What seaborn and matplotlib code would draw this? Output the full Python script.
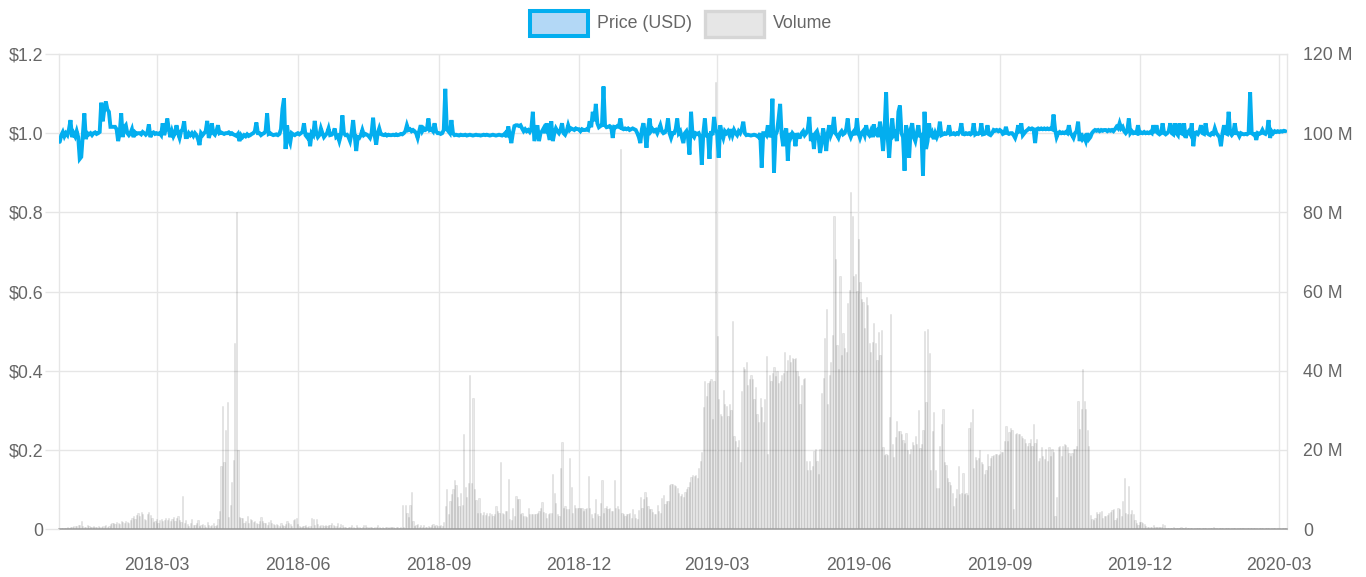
import numpy as np
import pandas as pd
import matplotlib
matplotlib.use("Agg")
import matplotlib.pyplot as plt
import matplotlib.dates as mdates
from matplotlib.patches import Rectangle
from matplotlib.ticker import FixedLocator, FixedFormatter
import seaborn as sns

# ---------------- data ----------------
START = "2017-12-28"

# Daily trading volume, millions USD, one list per month
vol_2017_12 = [0.2, 0.2, 0.3, 0.3]
vol_2018_01 = [0.3,0.4,0.3,0.5,0.6,0.7,0.8,0.7,0.9,1.0,2.0,0.8,0.6,0.5,0.9,0.7,0.5,0.6,0.8,0.4,0.5,0.7,0.6,0.5,0.8,0.7,0.9,0.6,0.8,1.2,1.5]
vol_2018_02 = [1.5,1.2,1.8,1.6,1.3,1.9,1.7,1.4,2.0,1.8,1.6,2.2,2.8,3.3,2.5,3.6,4.0,3.2,4.4,3.8,2.6,2.2,3.9,4.3,3.5,2.7,1.8,2.0]
vol_2018_03 = [2.5,1.6,2.2,2.6,2.0,2.4,2.7,2.3,2.8,1.9,2.6,3.0,2.1,2.9,3.2,2.4,1.8,8.3,1.6,2.3,1.2,0.8,1.5,2.6,1.0,0.9,1.4,2.2,0.8,1.1,1.3]
vol_2018_04 = [1.0,0.6,1.8,0.9,0.7,1.1,1.6,0.8,1.0,2.5,4.6,16,31,17,25,32,3,6,12,17.5,47,80,20,3,2.8,2.9,1.5,2.1,3.2,1.6]
vol_2018_05 = [2.6,2.4,1.8,2.0,1.5,1.2,2.1,3.1,1.9,1.6,1.4,1.1,1.7,2.2,1.5,1.3,0.9,1.2,1.0,0.8,1.5,1.1,0.7,1.3,2.1,1.6,1.2,0.8,2.4,2.6,2.8]
vol_2018_06 = [1.2,0.8,0.6,0.7,0.8,0.9,0.6,0.7,0.8,2.8,2.6,0.9,2.5,1.2,0.8,0.9,1.0,0.7,1.1,0.8,0.9,1.0,1.5,0.9,0.7,0.8,1.4,0.6,1.2,0.9]
vol_2018_07 = [0.5,0.4,0.3,0.5,0.4,1.0,0.6,0.3,1.1,0.4,0.5,0.3,0.4,0.9,1.0,0.4,0.3,0.5,0.4,0.3,0.6,0.4,1.0,0.5,0.3,0.4,0.3,0.5,0.4,0.3,0.6]
vol_2018_08 = [0.4,0.5,0.3,0.4,0.5,0.3,0.5,6.0,0.4,6.0,4.0,3.0,6.0,9.4,2.0,0.8,1.0,1.2,0.6,1.0,0.5,1.0,0.4,0.5,0.8,0.6,1.0,1.3,0.7,0.9,0.8]
vol_2018_09 = [0.8,1.0,0.7,1.7,5.9,10,3.8,7,8.8,10,12.5,11,8,5.9,9.2,6,24,10.5,8,11.7,39,11.5,33,10,7.3,4,7.8,4,3.5,4.2]
vol_2018_10 = [3.6,4.1,3.3,4.1,3.7,3.3,3.7,5.8,4.5,4.1,17,4.1,3.7,4.5,4.5,12.7,2.6,2.4,5.2,3.3,8.4,7.6,7.7,3.7,4.1,3.3,3.3,3.1,5.2,3.7,3.7]
vol_2018_11 = [3.7,3.7,3.7,4.1,4.5,5.4,6.7,4.3,4.1,2.8,3.7,4.1,4.1,14,9.1,6.5,3.7,3.4,15.3,22,5.4,5.8,5.0,5.0,18,10.6,4.1,6.0,5.4,5.4]
vol_2018_12 = [5.4,5.4,5.2,4.5,5.0,5.2,13.4,5.4,3.7,2.8,4.1,7.6,3.7,3.4,6.5,12.5,4.1,5.4,5.7,5.0,5.4,4.5,4.5,12.4,5.4,5.8,5.0,96,4.1,3.7,3.3]
vol_2019_01 = [3.7,3.9,4.1,2.8,5.0,3.9,2.8,2.6,4.8,8.2,5.4,7.7,9.4,8.0,5.8,5.0,5.0,4.3,3.7,3.7,6.0,4.5,4.1,7.9,8.6,6.3,7.1,7.1,11.2,11.4,11.4]
vol_2019_02 = [11.2,10.8,10.3,9.0,8.4,8.8,8.0,9.3,10.0,10.6,11.8,13.1,13.6,13.4,13.6,13.0,15.5,17.2,19.4,30.8,37.5,33.6,37.0,37.3,37.8,27.8,37.3,113]
vol_2019_03 = [48.8,32.8,29,28.6,35,31.5,31,28.6,31.7,30,52.5,23.6,22.3,20.7,22.5,17,34.8,41,40.3,42.3,36.5,37.8,39,38,32.8,36,29,27,33.2,30.7,27]
vol_2019_04 = [32.8,43.6,19,39,37.3,39.4,41,38.6,39.8,37,37.3,39,39.4,44.8,39.8,42.8,44,42.3,43.2,43,43.3,40,38.6,31.5,36.5,37.8,38.2,17.3,14.8,17.3]
vol_2019_05 = [14.8,16,19.8,20.3,17.3,14,20.3,34.4,38.2,48.2,55.7,31.5,39,42.3,49,79,68.2,46.5,40.3,64,44,49.4,45.7,44.8,57,60.5,85.2,79,64,64.4,60.2]
vol_2019_06 = [73.2,62.3,58.2,57.3,50.7,58.6,56.5,47,44.6,47.3,52,47,42.8,49.8,44,50.3,20.7,18.6,19,18.6,28.2,54.2,21.5,18.2,23.2,27.3,24.8,24.7,24,22.5]
vol_2019_07 = [21.7,24.2,20,19,20.3,22,21.2,23.5,21.4,30,20.5,21.5,25,50,32,50.5,44.5,15,24.7,29.6,15,10.3,10.3,21,26.5,30.3,17,16.2,12.8,12,11.2]
vol_2019_08 = [9,5.8,7.9,10,15.8,8.8,9,14.2,8.8,9,8.5,25.4,27,30.3,15.4,18.3,17.5,18,20,17,16.5,13.8,15,19,16,18,18.5,18.8,19,19,18.8]
vol_2019_09 = [19,19.5,19.5,22.3,26,22.3,24.4,25.6,25,5,24,24.2,24,24,23.5,23.1,22.7,21.8,21,21.8,22.7,21,26.5,21.8,22.7,17.2,18,20.6,18.5,17.6]
vol_2019_10 = [20.2,17.2,20.6,18.5,20.2,19.5,3.4,8,20.6,21,18.5,21,21.4,21.2,20.6,19.3,18.5,19.3,20.2,20.3,21,32.4,25.2,30.3,40.5,32.4,30.3,25,21,3.5,2.5]
vol_2019_11 = [2.3,2.9,4.3,3.7,4.3,4.6,2.9,3.3,3.3,3.5,4.0,4.2,4.8,5.0,2.4,2.9,5.2,5.0,3.3,7.2,13,4.0,3.7,10.9,3.7,4.8,3.7,2.4,1.5,1.1]
vol_2019_12 = [1.7,1.8,1.6,1.3,0.8,0.4,0.5,0.5,0.6,0.9,0.5,0.5,0.5,0.5,0.5,1.3,0.9,0.3,0.3,0.3,0.3,0.3,0.4,0.3,0.3,0.3,0.3,0.4,0.3,0.3,0.4]
vol_2020_01 = [0.2,0.15,0.2,0.15,0.1,0.15,0.2,0.15,0.15,0.1,0.15,0.2,0.15,0.1,0.15,0.2,0.3,0.4,0.2,0.15,0.1,0.15,0.2,0.15,0.1,0.15,0.2,0.15,0.1,0.15,0.2]
vol_2020_02 = [0.15,0.1,0.2,0.15,0.3,0.2,0.15,0.1,0.15,0.3,0.2,0.15,0.3,0.2,0.15,0.1,0.3,0.2,0.15,0.1,0.15,0.2,0.15,0.1,0.15,0.2,0.15,0.1,0.15]
vol_2020_03 = [0.15,0.1,0.15,0.2,0.15]

# Daily price, USD, one list per month
px_2017_12 = [0.978, 0.995, 1.003, 0.992]
px_2018_01 = [1.0,0.995,1.01,1.033,0.99,1.0,0.992,1.005,0.99,0.935,0.94,0.995,1.05,0.985,1.0,0.997,1.0,0.995,1.0,1.002,0.998,1.0,1.003,1.077,1.03,1.06,1.08,1.06,1.054,1.016,1.016]
px_2018_02 = [1.016,1.016,1.01,0.98,1.0,1.05,0.99,1.015,1.02,1.0,0.995,1.0,1.01,0.99,1.002,0.998,1.0,1.0,0.997,1.003,1.0,0.996,1.0,1.022,0.99,1.0,1.002,0.998]
px_2018_03 = [1.0,0.998,1.0,0.995,1.025,0.995,1.01,1.037,1.01,0.99,1.005,0.992,1.0,1.02,1.0,0.988,1.005,1.01,1.03,0.99,0.99,1.0,0.995,1.0,0.993,1.0,0.995,0.985,0.97,1.0,0.995]
px_2018_04 = [1.0,1.005,1.031,0.988,1.0,1.025,1.0,0.996,1.005,1.02,1.0,1.002,1.0,0.998,1.0,1.0,1.002,0.998,1.0,0.997,0.995,0.993,0.998,0.98,0.995,0.99,0.995,0.992,0.997,0.993]
px_2018_05 = [0.995,0.998,1.0,1.005,1.027,1.0,1.0,0.995,0.998,1.0,1.005,1.05,0.998,1.0,0.997,0.995,0.996,0.997,0.995,0.998,1.01,1.062,1.088,0.96,1.02,0.985,0.975,1.0,0.997,0.995,0.998]
px_2018_06 = [1.0,0.997,1.0,1.003,1.025,0.995,0.99,1.0,0.967,1.0,0.995,1.031,1.0,0.99,0.995,1.012,1.0,0.99,0.995,1.0,1.012,0.995,0.996,1.0,1.012,0.99,0.993,0.98,0.995,1.045]
px_2018_07 = [1.0,0.995,0.996,0.99,0.98,1.0,1.033,0.995,0.955,0.99,0.988,0.995,1.008,0.995,0.998,0.996,0.993,0.988,1.0,1.039,0.995,0.971,1.0,1.012,0.998,0.996,0.995,0.997,0.994,0.996,0.995]
px_2018_08 = [0.995,0.996,0.995,0.997,0.995,0.996,0.998,0.997,1.0,1.005,1.02,1.008,1.01,1.005,1.008,1.005,1.0,0.988,1.005,1.02,1.005,1.012,1.008,1.01,1.037,1.008,1.01,1.005,1.025,1.005,1.0]
px_2018_09 = [1.0,0.998,1.0,1.008,1.112,1.01,1.005,1.0,1.033,1.0,0.995,0.996,0.995,0.994,0.996,0.995,0.995,0.996,0.994,0.995,0.996,0.995,0.994,0.995,0.996,0.995,0.995,0.994,0.995,0.996]
px_2018_10 = [0.995,0.996,0.995,0.994,0.995,0.996,0.995,0.994,0.995,0.996,0.995,0.994,0.996,1.0,0.99,1.017,0.995,0.975,1.0,1.018,1.02,1.02,1.018,1.02,1.012,1.005,1.01,1.005,1.008,1.003,1.01]
px_2018_11 = [1.054,0.98,1.0,1.02,0.98,1.0,1.005,1.012,1.0,1.025,1.0,0.983,1.03,0.98,1.0,1.012,1.005,1.0,1.008,1.025,1.0,0.996,1.005,1.02,1.008,1.012,1.01,1.008,1.012,1.01]
px_2018_12 = [1.01,1.005,1.01,1.008,1.008,1.01,1.008,1.03,1.015,1.054,1.03,1.074,1.025,1.015,1.018,1.02,1.118,1.02,1.015,1.016,1.018,1.015,0.988,1.016,1.015,1.018,1.016,1.037,1.012,1.01,1.012]
px_2019_01 = [1.01,1.012,1.008,1.01,1.012,1.01,1.008,1.0,0.99,0.975,1.01,1.025,1.0,0.963,1.01,1.037,1.005,1.01,1.005,1.008,1.0,1.01,1.02,1.005,1.0,1.002,1.01,1.037,1.0,0.988,1.0]
px_2019_02 = [1.0,1.01,1.037,1.0,1.005,0.99,0.975,1.0,1.005,0.99,0.946,1.054,0.995,0.99,1.0,0.998,1.0,0.99,0.92,1.0,1.037,0.99,1.0,0.935,1.005,0.995,1.041,1.01]
px_2019_03 = [1.0,0.938,1.02,1.0,0.988,1.005,1.0,1.005,0.995,1.01,0.995,1.008,1.0,0.995,1.005,1.0,1.01,1.029,1.0,0.995,0.996,0.995,0.994,0.995,0.996,0.995,0.993,0.99,1.0,0.913,1.0]
px_2019_04 = [1.0,0.995,1.02,0.99,1.0,1.087,0.9,0.995,1.005,1.037,1.074,0.995,0.967,1.0,1.012,0.93,1.0,0.99,1.0,0.995,0.967,1.0,0.99,0.99,1.0,1.005,0.995,1.0,1.01,1.041]
px_2019_05 = [0.98,1.0,0.96,1.0,1.005,0.99,0.95,0.975,1.012,0.99,0.955,1.0,1.02,0.995,1.005,1.041,1.0,0.995,0.988,1.0,1.005,0.997,1.0,1.01,1.037,1.0,0.99,1.0,1.005,0.995,1.037]
px_2019_06 = [1.0,0.988,1.0,1.005,0.995,1.02,1.0,0.995,1.005,0.99,1.022,1.0,1.005,0.99,1.029,1.0,0.955,1.01,1.103,0.99,0.938,1.0,1.037,0.995,1.0,0.98,1.054,1.07,1.0,0.99]
px_2019_07 = [0.905,1.02,1.0,0.938,1.01,1.025,0.99,0.98,1.0,1.02,0.99,1.0,0.893,1.054,0.96,0.98,1.025,0.99,1.0,0.985,1.0,0.99,1.0,1.029,0.995,0.997,1.0,0.998,1.0,1.02,0.997]
px_2019_08 = [0.998,1.0,0.997,1.0,0.998,1.005,1.025,0.998,0.997,1.0,0.998,1.0,0.997,1.0,1.025,0.997,1.0,0.998,1.0,1.025,0.997,0.998,1.0,1.02,0.997,0.995,1.0,1.008,1.006,1.008,1.005]
px_2019_09 = [1.008,1.005,0.998,1.0,1.016,1.0,0.998,1.0,1.0,0.995,0.988,1.0,1.02,1.0,1.025,0.995,1.0,1.005,1.008,1.012,1.01,1.012,1.01,0.975,1.01,1.012,1.01,1.012,1.01,1.012]
px_2019_10 = [1.01,1.012,1.01,1.012,1.01,1.047,1.01,0.99,1.0,1.003,1.0,1.002,1.0,1.003,1.0,1.02,1.0,0.995,0.988,1.0,1.005,1.029,0.98,1.0,0.985,0.99,0.98,1.0,0.985,0.99,1.0]
px_2019_11 = [1.005,1.008,1.006,1.008,1.005,1.008,1.006,1.008,1.008,1.005,1.008,1.006,1.008,1.005,1.01,1.016,1.012,1.025,1.012,1.016,1.005,1.0,1.005,1.037,1.0,1.005,1.0,1.002,1.0,1.02]
px_2019_12 = [1.0,1.002,1.0,1.003,1.0,1.002,1.0,1.003,1.0,1.02,1.0,1.02,1.0,0.997,1.0,1.025,1.0,0.997,1.0,1.005,1.025,1.0,0.997,1.025,1.0,0.995,1.025,1.0,0.998,1.025,0.988]
px_2020_01 = [1.0,1.005,0.998,1.025,0.967,1.0,1.002,0.998,1.005,1.02,1.0,0.998,1.025,1.0,0.997,0.995,1.0,0.998,1.012,1.0,0.995,0.99,0.967,1.0,1.02,1.0,0.998,1.054,1.0,0.995,1.0]
px_2020_02 = [1.025,1.0,1.0,0.992,1.0,0.998,0.997,0.998,0.997,1.0,1.103,1.0,0.997,0.998,0.983,1.0,0.998,1.0,1.008,1.0,0.998,1.005,1.033,0.988,1.005,1.0,1.005,1.003,1.005]
px_2020_03 = [1.003,1.005,1.004,1.006,1.005]

x_tick_labels = ["2018-03", "2018-06", "2018-09", "2018-12", "2019-03",
                 "2019-06", "2019-09", "2019-12", "2020-03"]
price_ticks = [0, 0.2, 0.4, 0.6, 0.8, 1.0, 1.2]
price_tick_labels = ["0", "$0.2", "$0.4", "$0.6", "$0.8", "$1.0", "$1.2"]
vol_ticks = [0, 20e6, 40e6, 60e6, 80e6, 100e6, 120e6]
vol_tick_labels = ["0", "20 M", "40 M", "60 M", "80 M", "100 M", "120 M"]

vol_months = [vol_2017_12, vol_2018_01, vol_2018_02, vol_2018_03, vol_2018_04, vol_2018_05,
              vol_2018_06, vol_2018_07, vol_2018_08, vol_2018_09, vol_2018_10, vol_2018_11,
              vol_2018_12, vol_2019_01, vol_2019_02, vol_2019_03, vol_2019_04, vol_2019_05,
              vol_2019_06, vol_2019_07, vol_2019_08, vol_2019_09, vol_2019_10, vol_2019_11,
              vol_2019_12, vol_2020_01, vol_2020_02, vol_2020_03]
px_months = [px_2017_12, px_2018_01, px_2018_02, px_2018_03, px_2018_04, px_2018_05,
             px_2018_06, px_2018_07, px_2018_08, px_2018_09, px_2018_10, px_2018_11,
             px_2018_12, px_2019_01, px_2019_02, px_2019_03, px_2019_04, px_2019_05,
             px_2019_06, px_2019_07, px_2019_08, px_2019_09, px_2019_10, px_2019_11,
             px_2019_12, px_2020_01, px_2020_02, px_2020_03]

month_len = [4] + [pd.Period(p, freq="M").days_in_month
                   for p in pd.period_range("2018-01", "2020-02", freq="M")] + [5]
for i, (v, p, n) in enumerate(zip(vol_months, px_months, month_len)):
    assert len(v) == n and len(p) == n, f"month {i}: vol {len(v)} px {len(p)} expected {n}"

volume = np.concatenate(vol_months) * 1e6
price = np.concatenate(px_months)
dates = pd.date_range(START, periods=len(price), freq="D")
df = pd.DataFrame({"date": dates, "dnum": mdates.date2num(dates),
                   "price": price, "volume": volume})

# ---------------- style ----------------
sns.set_style("white")
plt.rcParams["font.family"] = ["Liberation Sans", "DejaVu Sans"]

W, H = 1366, 577
BLUE = "#03aeef"
GRID = "#e6e6e6"
TXT = "#666666"
FS = 12.8

fig = plt.figure(figsize=(W / 100, H / 100), dpi=100)
L, R, T, B = 59.3, 1287.0, 54.0, 529.0
ax_vol = fig.add_axes([L / W, 1 - B / H, (R - L) / W, (B - T) / H])
ax_px = ax_vol.twinx()

# volume bars (behind)
sns.barplot(data=df, x="dnum", y="volume", native_scale=True, ax=ax_vol,
            width=0.8, errorbar=None, saturation=1,
            facecolor=(0, 0, 0, 0.09), edgecolor=(0, 0, 0, 0.10), linewidth=0.45)

# price line (front)
sns.lineplot(data=df, x="dnum", y="price", ax=ax_px, color=BLUE, linewidth=2.8,
             legend=False, errorbar=None, sort=False, solid_joinstyle="miter")

d0 = mdates.date2num(pd.Timestamp(START))
ax_vol.set_xlim(d0 - 0.3, d0 + 799.0)
ax_vol.set_ylim(0, 120e6)
ax_px.set_ylim(0, 1.2)

xt = [mdates.date2num(pd.Timestamp(s + "-01")) for s in x_tick_labels]
ax_vol.xaxis.set_major_locator(FixedLocator(xt))
ax_vol.xaxis.set_major_formatter(FixedFormatter(x_tick_labels))
ax_vol.yaxis.set_major_locator(FixedLocator(vol_ticks))
ax_vol.yaxis.set_major_formatter(FixedFormatter(vol_tick_labels))
ax_px.yaxis.set_major_locator(FixedLocator(price_ticks))
ax_px.yaxis.set_major_formatter(FixedFormatter(price_tick_labels))

for a in (ax_vol, ax_px):
    a.set_xlabel("")
    a.set_ylabel("")

ax_vol.set_axisbelow(True)
ax_vol.grid(True, color=GRID, linewidth=1)
ax_px.grid(False)

ax_vol.yaxis.tick_right()
ax_px.yaxis.tick_left()
ax_vol.tick_params(axis="x", length=5.8, width=1, color=GRID, labelcolor=TXT,
                   labelsize=FS, pad=14)
ax_vol.tick_params(axis="y", length=0, pad=11.5, labelcolor=TXT, labelsize=FS,
                   labelright=True, labelleft=False)
ax_px.tick_params(axis="y", length=10, width=1, color=GRID, pad=1.5,
                  labelcolor=TXT, labelsize=FS, labelleft=True, labelright=False)

for s in ("left", "right", "top"):
    ax_vol.spines[s].set_color(GRID)
    ax_vol.spines[s].set_linewidth(1)
ax_vol.spines["bottom"].set_color("#9a9a9a")
ax_vol.spines["bottom"].set_linewidth(1.1)
for s in ax_px.spines.values():
    s.set_visible(False)

# legend (top centre)
def frect(x0, y0, x1, y1, **kw):
    fig.add_artist(Rectangle((x0 / W, 1 - y1 / H), (x1 - x0) / W, (y1 - y0) / H,
                             transform=fig.transFigure, **kw))

frect(529.7, 11.3, 588.0, 36.3, facecolor="#b3d8f6", edgecolor=BLUE, linewidth=2.9)
frect(705.0, 11.0, 764.0, 36.6, facecolor="#e6e6e6", edgecolor="#d6d6d6", linewidth=2.4)
fig.text(597 / W, 1 - 23 / H, "Price (USD)", color=TXT, fontsize=FS, ha="left", va="center")
fig.text(773 / W, 1 - 23 / H, "Volume", color=TXT, fontsize=FS, ha="left", va="center")

fig.savefig("out.png", dpi=100)
